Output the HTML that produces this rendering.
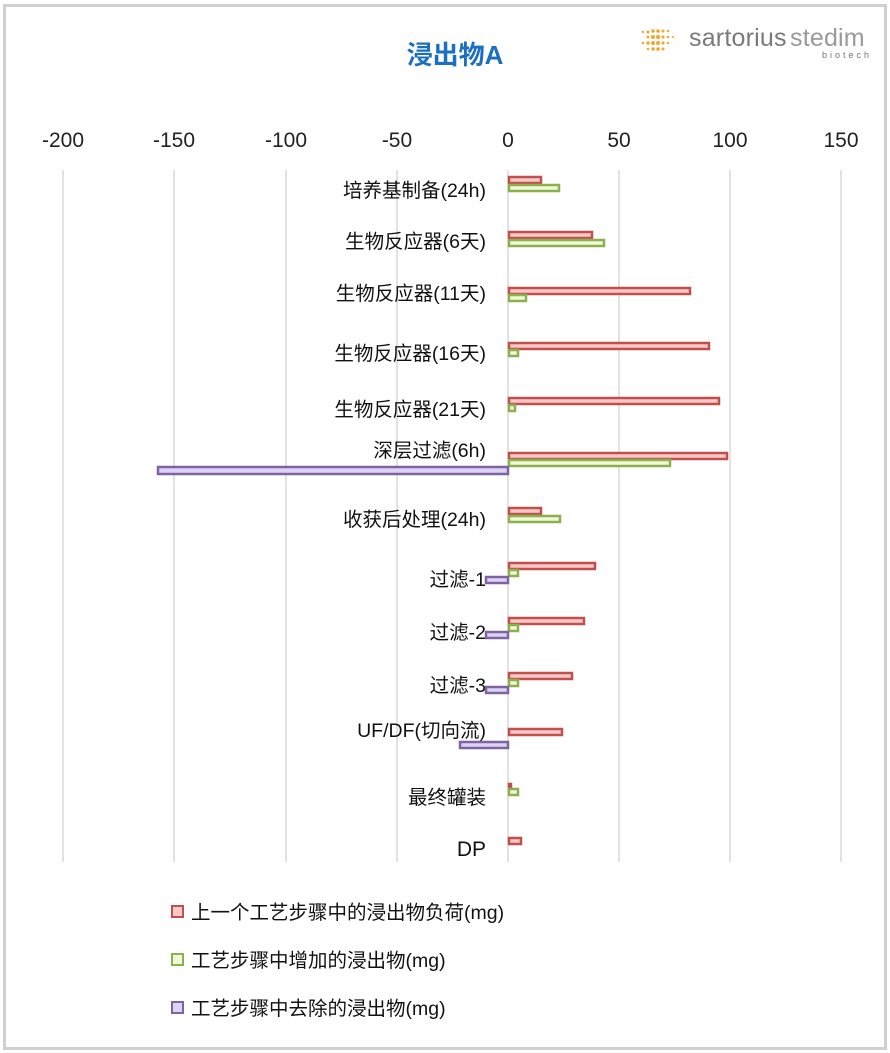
<!DOCTYPE html>
<html><head><meta charset="utf-8"><style>
body{margin:0;background:#fff}
svg{display:block}
text{font-family:"Liberation Sans","Noto Sans CJK SC",sans-serif}
</style></head><body>
<svg width="890" height="1053" viewBox="0 0 890 1053" xmlns="http://www.w3.org/2000/svg">
<rect x="0" y="0" width="890" height="1053" fill="#fff"/>
<rect x="4.5" y="5.5" width="881" height="1043" fill="none" stroke="#d0d0d0" stroke-width="3"/>
<text x="455" y="64" font-size="26" font-weight="bold" fill="#1a6fc0" text-anchor="middle" font-family="Noto Sans CJK SC,sans-serif">浸出物A</text>
<!-- logo -->
<g fill="#f0a830">
<circle cx="643" cy="32" r="1.2"/><circle cx="648" cy="32" r="1.5"/><circle cx="653" cy="31" r="1.8"/><circle cx="658" cy="31" r="1.8"/><circle cx="663" cy="31" r="1.5"/><circle cx="668" cy="31" r="1.2"/>
<circle cx="648" cy="37" r="1.5"/><circle cx="653" cy="37" r="2"/><circle cx="658" cy="37" r="2"/><circle cx="663" cy="37" r="1.6"/><circle cx="668" cy="37" r="1.3"/><circle cx="673" cy="37" r="1"/>
<circle cx="643" cy="43" r="1.3"/><circle cx="648" cy="43" r="1.7"/><circle cx="653" cy="43" r="2"/><circle cx="658" cy="43" r="2"/><circle cx="663" cy="43" r="1.6"/><circle cx="668" cy="43" r="1.2"/>
<circle cx="653" cy="49" r="1.8"/><circle cx="658" cy="49" r="1.8"/><circle cx="663" cy="49" r="1.5"/><circle cx="648" cy="49" r="1.2"/>
</g>
<text x="689" y="46" font-size="25" fill="#7a7a7a" letter-spacing="0.2">sartorius</text>
<text x="790" y="46" font-size="25" fill="#9a9a9a" letter-spacing="0.2">stedim</text>
<text x="822" y="58" font-size="9" fill="#777" letter-spacing="3">biotech</text>
<!-- axis labels -->
<g font-size="21" fill="#222" text-anchor="middle">
<text x="63" y="147">-200</text><text x="174" y="147">-150</text><text x="286" y="147">-100</text><text x="397" y="147">-50</text><text x="508" y="147">0</text><text x="619" y="147">50</text><text x="730" y="147">100</text><text x="841" y="147">150</text>
</g>
<g stroke="#d9d9d9" stroke-width="1.5">
<line x1="63" y1="170" x2="63" y2="862"/><line x1="174" y1="170" x2="174" y2="862"/><line x1="286" y1="170" x2="286" y2="862"/><line x1="397" y1="170" x2="397" y2="862"/><line x1="508" y1="170" x2="508" y2="862"/><line x1="619" y1="170" x2="619" y2="862"/><line x1="730" y1="170" x2="730" y2="862"/><line x1="841" y1="170" x2="841" y2="862"/>
</g>
<!-- labels -->
<g font-size="19.5" fill="#111" text-anchor="end" font-family="Noto Sans CJK SC,sans-serif">
<text x="486" y="197">培养基制备(24h)</text>
<text x="486" y="248">生物反应器(6天)</text>
<text x="486" y="300">生物反应器(11天)</text>
<text x="486" y="360">生物反应器(16天)</text>
<text x="486" y="416">生物反应器(21天)</text>
<text x="486" y="457">深层过滤(6h)</text>
<text x="486" y="526">收获后处理(24h)</text>
<text x="486" y="586">过滤-1</text>
<text x="486" y="639">过滤-2</text>
<text x="486" y="692">过滤-3</text>
<text x="486" y="737">UF/DF(切向流)</text>
<text x="486" y="804">最终罐装</text>
<text x="486" y="856" font-size="21">DP</text>
</g>
<!-- bars -->
<g stroke-width="2.5">
<g fill="#fbc8c8" stroke="#c0504d">
<rect x="509" y="177" width="32" height="6"/>
<rect x="509" y="232" width="83" height="6"/>
<rect x="509" y="288" width="181" height="6"/>
<rect x="509" y="343" width="200" height="6"/>
<rect x="509" y="398" width="210" height="6"/>
<rect x="509" y="453" width="218" height="6"/>
<rect x="509" y="508" width="32" height="6"/>
<rect x="509" y="563" width="86" height="6"/>
<rect x="509" y="618" width="75" height="6"/>
<rect x="509" y="673" width="63" height="6"/>
<rect x="509" y="729" width="53" height="6"/>
<rect x="509" y="784" width="2" height="4"/>
<rect x="509" y="838" width="12" height="6"/>
</g>
<g fill="#f0fad8" stroke="#8cb050">
<rect x="509" y="185" width="50" height="6"/>
<rect x="509" y="240" width="95" height="6"/>
<rect x="509" y="295" width="17" height="6"/>
<rect x="509" y="350" width="9" height="6"/>
<rect x="509" y="405" width="6" height="6"/>
<rect x="509" y="460" width="161" height="6"/>
<rect x="509" y="516" width="51" height="6"/>
<rect x="509" y="570" width="9" height="6"/>
<rect x="509" y="625" width="9" height="6"/>
<rect x="509" y="680" width="9" height="6"/>
<rect x="509" y="789" width="9" height="6"/>
</g>
<g fill="#dcd4f4" stroke="#8064a2">
<rect x="158" y="467" width="350" height="7"/>
<rect x="486" y="577" width="22" height="6"/>
<rect x="486" y="632" width="22" height="6"/>
<rect x="486" y="687" width="22" height="6"/>
<rect x="460" y="742" width="48" height="6"/>
</g>
</g>
<!-- legend -->
<g stroke-width="2">
<rect x="172" y="906" width="11" height="11" fill="#fbc8c8" stroke="#c0504d"/>
<rect x="172" y="954" width="11" height="11" fill="#f0fad8" stroke="#8cb050"/>
<rect x="172" y="1002" width="11" height="11" fill="#dcd4f4" stroke="#8064a2"/>
</g>
<g font-size="19.5" fill="#111" font-family="Noto Sans CJK SC,sans-serif">
<text x="191" y="919">上一个工艺步骤中的浸出物负荷(mg)</text>
<text x="191" y="967">工艺步骤中增加的浸出物(mg)</text>
<text x="191" y="1015">工艺步骤中去除的浸出物(mg)</text>
</g>
</svg>
</body></html>
